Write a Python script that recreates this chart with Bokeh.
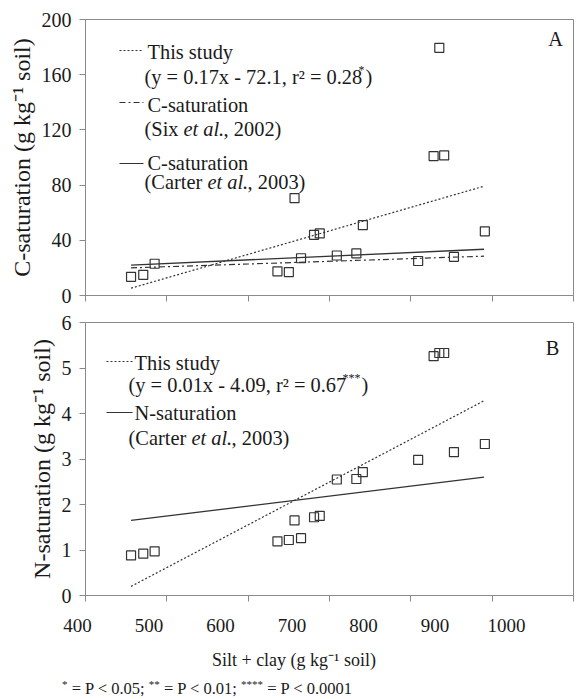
from bokeh.plotting import figure
from bokeh.layouts import column
from bokeh.models import Label, FixedTicker, Range1d, Div
from bokeh.embed import file_html
from bokeh.resources import INLINE

# ---------------- data ----------------
silt_clay = [456, 471, 485, 636, 650, 657, 665, 681, 688, 709, 733, 741, 809, 828, 835, 841, 853, 891]
c_saturation = [13.5, 15, 23, 17.5, 17, 70.5, 27, 44, 45, 29, 30.5, 51, 25, 101, 179.5, 101.5, 28, 46.5]
n_saturation = [0.88, 0.92, 0.97, 1.19, 1.22, 1.65, 1.26, 1.72, 1.75, 2.55, 2.56, 2.71, 2.98, 5.26, 5.33, 5.33, 3.15, 3.33]

fit_x = [456, 890]
c_this_study = [5.3, 79.2]
c_six = [20, 28.5]
c_carter = [22, 33.5]
n_this_study = [0.2, 4.28]
n_carter = [1.65, 2.6]

x_ticks = [400, 500, 600, 700, 800, 900, 1000]
c_ticks = [0, 40, 80, 120, 160, 200]
n_ticks = [0, 1, 2, 3, 4, 5, 6]

FONT = "Liberation Serif"
INK = "#1a1a1a"
AXIS = "#8a8a8a"
LINE = "#333333"

# frame geometry (page pixels)
FL, FW = 85, 488


def xd(px):
    return 400 + (px - FL) / FW * 600


def yd_top(py):
    return (295 - py) / 276 * 200


def yd_bot(py):
    return (595 - py) / 273 * 6


def style(p, yticks):
    p.xaxis.ticker = FixedTicker(ticks=x_ticks)
    p.yaxis.ticker = FixedTicker(ticks=yticks)
    for ax in (p.xaxis[0], p.yaxis[0]):
        ax.axis_line_color = AXIS
        ax.major_tick_line_color = AXIS
        ax.major_tick_out = 6
        ax.major_tick_in = 0
        ax.minor_tick_line_color = None
        ax.major_label_text_font = FONT
        ax.major_label_text_color = INK
        ax.axis_label_text_font = FONT
        ax.axis_label_text_font_style = "normal"
        ax.axis_label_text_color = INK
    p.yaxis.major_label_text_font_size = "20px"
    p.yaxis.axis_label_text_font_size = "24px"
    p.yaxis.major_label_standoff = 8
    p.yaxis.axis_label_standoff = 4
    # x tick labels are drawn once, under panel B
    p.xaxis.major_label_overrides = {t: "" for t in x_ticks}
    p.xaxis.major_label_text_font_size = "1px"
    p.xaxis.major_label_standoff = 0
    p.grid.visible = False
    p.outline_line_color = AXIS
    p.background_fill_color = "white"
    p.border_fill_color = "white"


LEG = "20.4px"


def lab(p, px, py, text, yfun, size=LEG, style_="normal", align="left"):
    p.add_layout(Label(x=xd(px), y=yfun(py), text=text, text_font=FONT, text_font_size=size,
                       text_font_style=style_, text_color=INK, text_baseline="middle",
                       text_align=align))


def sample(p, px0, px1, py, yfun, dash):
    p.line([xd(px0), xd(px1)], [yfun(py), yfun(py)], line_color=LINE, line_width=1.2, line_dash=dash)


DOT = "2 2"
DASHDOT = "6 3 2 3"

# ---------------- panel A ----------------
pa = figure(width=587, height=305, x_range=Range1d(400, 1000), y_range=Range1d(0, 200),
            output_backend="svg", toolbar_location=None,
            min_border_left=FL, min_border_right=587 - FL - FW, min_border_top=19, min_border_bottom=10)
style(pa, c_ticks)
pa.yaxis.axis_label = "C-saturation (g kg⁻¹ soil)"

pa.line(fit_x, c_this_study, line_color=LINE, line_width=1.2, line_dash=DOT)
pa.line(fit_x, c_six, line_color=LINE, line_width=1.2, line_dash=DASHDOT)
pa.line(fit_x, c_carter, line_color=LINE, line_width=1.3)
pa.scatter(silt_clay, c_saturation, marker="square", size=9, fill_color=None, line_color=LINE, line_width=1.2)

sample(pa, 119, 143, 50, yd_top, DOT)
lab(pa, 147, 51, "This study", yd_top)
lab(pa, 144, 76, "(y = 0.17x - 72.1, r² = 0.28", yd_top)
lab(pa, 358, 69, "*", yd_top, size="12px")
lab(pa, 365, 76, ")", yd_top)
sample(pa, 119, 143, 102, yd_top, DASHDOT)
lab(pa, 147, 104, "C-saturation", yd_top)
lab(pa, 144, 128, "(Six ", yd_top)
lab(pa, 183, 128, "et al", yd_top, style_="italic")
lab(pa, 218, 128, "., 2002)", yd_top)
sample(pa, 119, 143, 163, yd_top, "solid")
lab(pa, 147, 162, "C-saturation", yd_top)
lab(pa, 144, 181, "(Carter ", yd_top)
lab(pa, 207, 181, "et al", yd_top, style_="italic")
lab(pa, 242, 181, "., 2003)", yd_top)
lab(pa, 555, 38, "A", yd_top, align="center")

# ---------------- panel B ----------------
pb = figure(width=587, height=300, x_range=Range1d(400, 1000), y_range=Range1d(0, 6),
            output_backend="svg", toolbar_location=None,
            min_border_left=FL, min_border_right=587 - FL - FW, min_border_top=17, min_border_bottom=10)
style(pb, n_ticks)
pb.yaxis.axis_label = "N-saturation (g kg⁻¹ soil)"

pb.line(fit_x, n_this_study, line_color=LINE, line_width=1.2, line_dash=DOT)
pb.line(fit_x, n_carter, line_color=LINE, line_width=1.3)
pb.scatter(silt_clay, n_saturation, marker="square", size=9, fill_color=None, line_color=LINE, line_width=1.2)

sample(pb, 106, 132, 361, yd_bot, DOT)
lab(pb, 134, 362, "This study", yd_bot)
lab(pb, 128, 384, "(y = 0.01x - 4.09, r² = 0.67", yd_bot)
lab(pb, 342, 377, "***", yd_bot, size="12px")
lab(pb, 361, 384, ")", yd_bot)
sample(pb, 106, 132, 412, yd_bot, "solid")
lab(pb, 134, 412, "N-saturation", yd_bot)
lab(pb, 128, 437, "(Carter ", yd_bot)
lab(pb, 191, 437, "et al", yd_bot, style_="italic")
lab(pb, 226, 437, "., 2003)", yd_bot)
lab(pb, 552, 347, "B", yd_bot, align="center")

# ---------------- shared x tick labels + axis title strip ----------------
# In the reference the tick labels sit on a slightly compressed scale (400 at x~77, 1000 at x~506)
lab_scale = 0.7150          # px per unit
lab_start = 400 - 77 / lab_scale
strip = figure(width=587, height=74, x_range=Range1d(lab_start, lab_start + 587 / lab_scale),
               y_range=Range1d(0, 1), output_backend="svg", toolbar_location=None,
               y_axis_location=None, min_border_left=0, min_border_right=0,
               min_border_top=0, min_border_bottom=72)
strip.xaxis.ticker = FixedTicker(ticks=x_ticks)
strip.xaxis.axis_line_color = None
strip.xaxis.major_tick_line_color = None
strip.xaxis.minor_tick_line_color = None
strip.xaxis.major_tick_out = 0
strip.xaxis.major_tick_in = 0
strip.xaxis.major_label_text_font = FONT
strip.xaxis.major_label_text_font_size = "19px"
strip.xaxis.major_label_text_color = INK
strip.xaxis.major_label_standoff = 11
strip.xaxis.axis_label = "Silt + clay (g kg⁻¹ soil)"
strip.xaxis.axis_label_text_font = FONT
strip.xaxis.axis_label_text_font_size = "18px"
strip.xaxis.axis_label_text_font_style = "normal"
strip.xaxis.axis_label_text_color = INK
strip.xaxis.axis_label_standoff = 15
strip.grid.visible = False
strip.outline_line_color = None
strip.background_fill_color = "white"
strip.border_fill_color = "white"

# ---------------- footnote ----------------
sup = '<span style="position:relative;top:-6px;font-size:11px;">{}</span>'
foot_html = (sup.format("*") + " = P &lt; 0.05; " + sup.format("**") + " = P &lt; 0.01; "
             + sup.format("****") + " = P &lt; 0.0001")
foot = Div(text=foot_html, width=587, height=20, margin=(0, 0, 0, 0),
           styles={"font-family": FONT, "font-size": "16.5px", "color": INK,
                   "padding-left": "62px", "line-height": "20px", "white-space": "nowrap",
                   "background-color": "white"})

panels = column(pa, pb, spacing=0)
bottom = column(strip, foot, spacing=0)
layout = column(panels, bottom, spacing=0)
open("out.html", "w").write(file_html(layout, INLINE))
